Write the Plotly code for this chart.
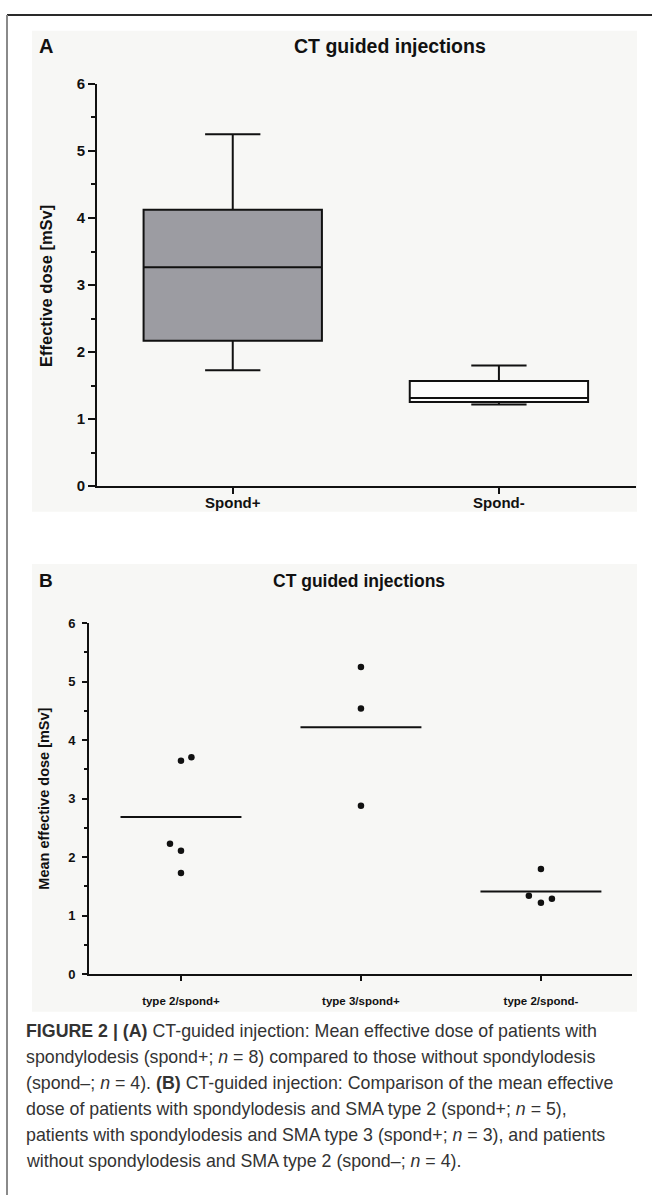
import numpy as np
import plotly.graph_objects as go

W, H = 652, 1203

# ---------------- data ----------------
panel_title = "CT guided injections"
a_categories = ["Spond+", "Spond-"]
b_categories = ["type 2/spond+", "type 3/spond+", "type 2/spond-"]
type2_spond_plus = [3.65, 3.71, 2.23, 2.11, 1.73]
type3_spond_plus = [5.25, 4.54, 2.88]
type2_spond_minus = [1.80, 1.34, 1.22, 1.29]
y_tick_values = [0, 1, 2, 3, 4, 5, 6]
a_y_title = "Effective dose [mSv]"
b_y_title = "Mean effective dose [mSv]"
caption_lines = [
    "<b>FIGURE 2 | (A)</b> CT-guided injection: Mean effective dose of patients with",
    "spondylodesis (spond+; <i>n</i> = 8) compared to those without spondylodesis",
    "(spond\u2013; <i>n</i> = 4). <b>(B)</b> CT-guided injection: Comparison of the mean effective",
    "dose of patients with spondylodesis and SMA type 2 (spond+; <i>n</i> = 5),",
    "patients with spondylodesis and SMA type 3 (spond+; <i>n</i> = 3), and patients",
    "without spondylodesis and SMA type 2 (spond\u2013; <i>n</i> = 4).",
]

# ---------------- styling ----------------
FONT = "Liberation Sans, Arial, sans-serif"
INK = "#111111"
PANEL_BG = "#f7f7f5"
BOX_GRAY = "#9c9ca2"
dot_offsets = [[0.0, 0.058, -0.061, 0.0, 0.0], [0.0, 0.0, 0.0], [0.0, -0.067, 0.0, 0.061]]
mean_half_width = 0.336


def fx(px):
    return px / W


def fy(py):
    return 1 - py / H


def halves_median_stats(vals):
    v = np.sort(np.asarray(vals, dtype=float))
    n = len(v)
    med = float(np.median(v))
    lower = v[: n // 2]
    upper = v[(n + 1) // 2:]
    return float(np.median(lower)), med, float(np.median(upper)), float(v.min()), float(v.max())


spond_plus = type2_spond_plus + type3_spond_plus
spond_minus = type2_spond_minus
a_groups = [spond_plus, spond_minus]
a_fills = [BOX_GRAY, "#fdfdfd"]

fig = go.Figure()

# Panel A boxes
for i, (vals, fill) in enumerate(zip(a_groups, a_fills)):
    q1, med, q3, lo, hi = halves_median_stats(vals)
    fig.add_trace(go.Box(
        x=[i], q1=[q1], median=[med], q3=[q3], lowerfence=[lo], upperfence=[hi],
        width=0.67, whiskerwidth=0.31, fillcolor=fill,
        line=dict(color=INK, width=2), boxpoints=False,
        xaxis="x", yaxis="y", showlegend=False, hoverinfo="skip",
    ))

# Panel B dots and mean lines
b_groups = [type2_spond_plus, type3_spond_plus, type2_spond_minus]
for i, vals in enumerate(b_groups):
    xs = [i + o for o in dot_offsets[i]]
    fig.add_trace(go.Scatter(
        x=xs, y=vals, mode="markers",
        marker=dict(color=INK, size=6.5),
        xaxis="x2", yaxis="y2", showlegend=False, hoverinfo="skip",
    ))
    m = float(np.mean(vals))
    fig.add_trace(go.Scatter(
        x=[i - mean_half_width, i + mean_half_width], y=[m, m], mode="lines",
        line=dict(color=INK, width=2),
        xaxis="x2", yaxis="y2", showlegend=False, hoverinfo="skip",
    ))

common_axis = dict(showgrid=False, zeroline=False, showline=True, linecolor=INK,
                   linewidth=2, ticks="outside", tickcolor=INK, tickwidth=2,
                   fixedrange=True)


def tf(size):
    return dict(size=size, family=FONT, color=INK, weight="bold")


fig.update_layout(
    width=W, height=H, autosize=False,
    margin=dict(l=0, r=0, t=0, b=0),
    paper_bgcolor="white", plot_bgcolor="rgba(0,0,0,0)",
    font=dict(family=FONT, color=INK),
    xaxis=dict(common_axis, domain=[fx(97), fx(636)], range=[-0.51, 1.515],
               tickvals=[0, 1], ticktext=a_categories, ticklen=6,
               ticklabelstandoff=-4,
               tickfont=tf(15), anchor="y"),
    yaxis=dict(common_axis, domain=[fy(484), fy(76)], range=[0, 6],
               tickvals=y_tick_values, ticklen=7,
               tickfont=tf(15), anchor="x",
               minor=dict(dtick=0.5, ticks="outside", ticklen=4, tickwidth=2, tickcolor=INK)),
    xaxis2=dict(common_axis, domain=[fx(89), fx(632)], range=[-0.511, 2.506],
                tickvals=[0, 1, 2], ticktext=b_categories, ticklen=5,
                ticklabelstandoff=10,
                tickfont=tf(11.5), anchor="y2"),
    yaxis2=dict(common_axis, domain=[fy(979), fy(623)], range=[0, 6],
                tickvals=y_tick_values, ticklen=5, ticklabelstandoff=4,
                tickfont=tf(13), anchor="x2",
                minor=dict(dtick=0.5, ticks="outside", ticklen=3, tickwidth=2, tickcolor=INK)),
)

shapes = [
    dict(type="rect", xref="paper", yref="paper", x0=fx(32), x1=fx(637), y0=fy(510), y1=fy(22),
         fillcolor=PANEL_BG, line=dict(width=0), layer="below"),
    dict(type="rect", xref="paper", yref="paper", x0=fx(32), x1=fx(637), y0=fy(1017), y1=fy(563),
         fillcolor=PANEL_BG, line=dict(width=0), layer="below"),
    dict(type="line", xref="paper", yref="paper", x0=fx(7), x1=1, y0=fy(6), y1=fy(6),
         line=dict(color="#2a2a2a", width=2)),
    dict(type="line", xref="paper", yref="paper", x0=fx(7), x1=fx(7), y0=0, y1=fy(6),
         line=dict(color="#8a8a8a", width=2)),
]
fig.update_layout(shapes=shapes)

ann = []
ann.append(dict(text="<b>A</b>", x=fx(37), y=fy(38), xanchor="left", yanchor="middle",
                font=dict(size=20, family=FONT, color=INK)))
ann.append(dict(text="<b>%s</b>" % panel_title, x=fx(390), y=fy(38), xanchor="center", yanchor="middle",
                font=dict(size=19.5, family=FONT, color=INK)))
ann.append(dict(text="<b>B</b>", x=fx(37), y=fy(580), xanchor="left", yanchor="middle",
                font=dict(size=19, family=FONT, color=INK)))
ann.append(dict(text="<b>%s</b>" % panel_title, x=fx(359), y=fy(580), xanchor="center", yanchor="middle",
                font=dict(size=17.5, family=FONT, color=INK)))
ann.append(dict(text="<b>%s</b>" % a_y_title, x=fx(46), y=fy(281), textangle=-90,
                xanchor="center", yanchor="middle", font=dict(size=16.5, family=FONT, color=INK)))
ann.append(dict(text="<b>%s</b>" % b_y_title, x=fx(44), y=fy(801), textangle=-90,
                xanchor="center", yanchor="middle", font=dict(size=14.5, family=FONT, color=INK)))
for k, line in enumerate(caption_lines):
    ann.append(dict(text=line, x=fx(24), y=fy(1037 + k * 26.3), xanchor="left", yanchor="middle",
                    font=dict(size=17.8, family=FONT, color="#333333")))
for a in ann:
    a.update(xref="paper", yref="paper", showarrow=False)
fig.update_layout(annotations=ann)

fig.write_html(
    "out.html",
    config={"displayModeBar": False, "staticPlot": True},
    post_script=(
        "document.documentElement.style.margin='0';document.documentElement.style.padding='0';"
        "document.documentElement.style.overflow='hidden';"
        "document.body.style.margin='0';document.body.style.padding='0';"
        "document.body.style.overflow='hidden';"
        "var gd=document.getElementById('{plot_id}');"
        "if(gd){gd.style.position='fixed';gd.style.top='0px';gd.style.left='0px';gd.style.margin='0';}"
    ),
)
